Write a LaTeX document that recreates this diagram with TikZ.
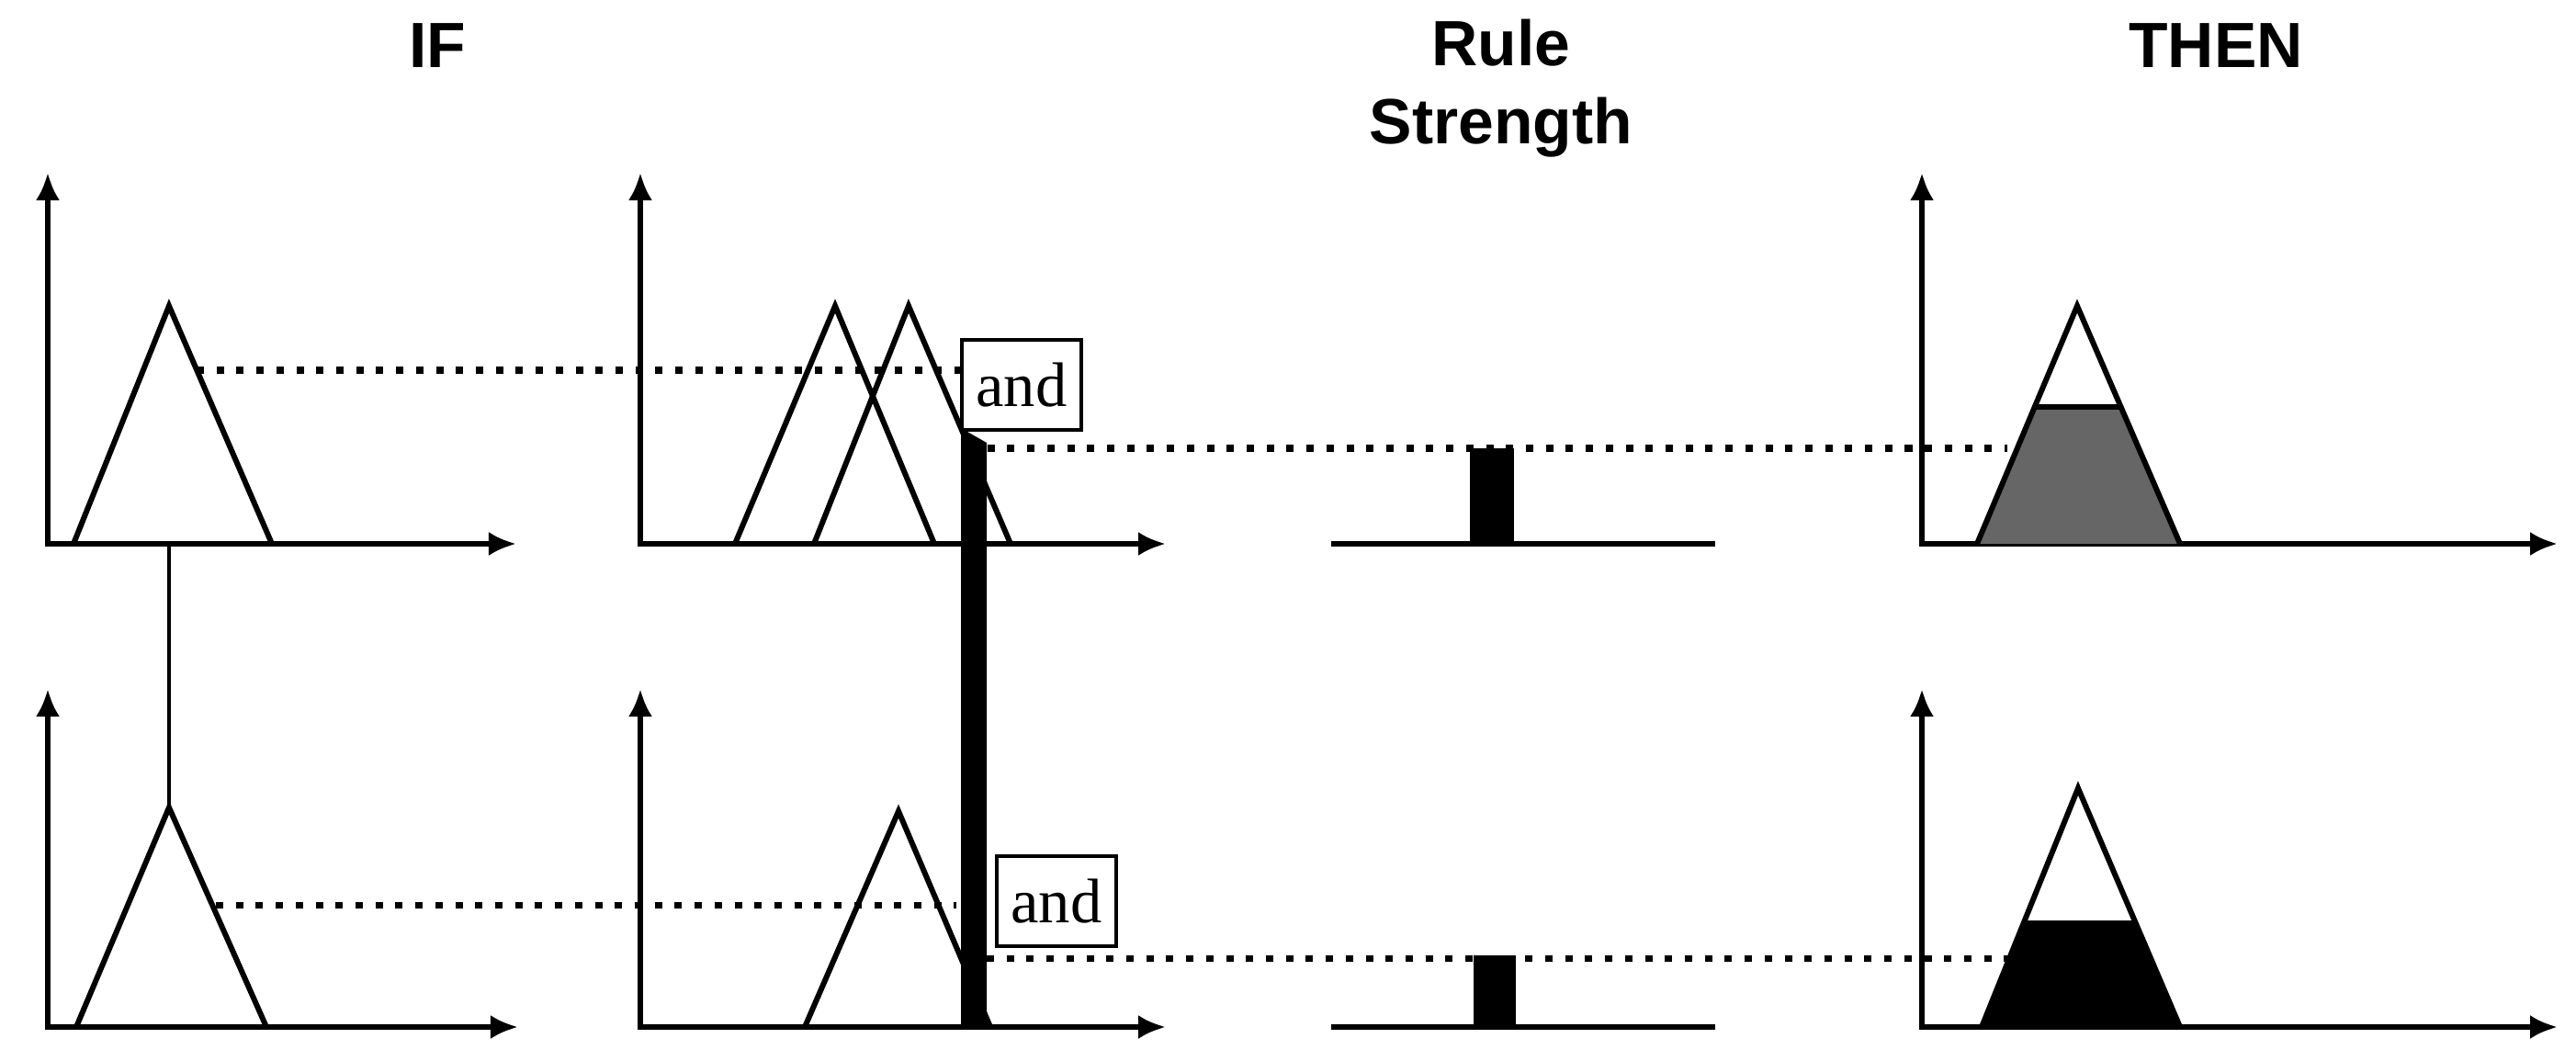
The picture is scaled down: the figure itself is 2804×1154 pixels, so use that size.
\documentclass[tikz,border=0pt]{standalone}
\usepackage{fontspec}
\setmainfont{Liberation Serif}
\newfontfamily\headfont{Liberation Sans}
\usetikzlibrary{arrows.meta}
\definecolor{cutgray}{HTML}{666666}
\tikzset{
  axes/.style={line width=1.6pt, line join=miter,
    {Latex[length=0.3cm,width=0.26cm]}-{Latex[length=0.3cm,width=0.26cm]}},
  mf/.style={line width=1.7pt, line join=miter},
  dots/.style={line width=2pt, dash pattern=on 0.08cm off 0.137cm},
  head/.style={font=\headfont\bfseries\fontsize{19.8}{24.1}\selectfont, align=center, inner sep=0pt},
  andbox/.style={draw, line width=1.2pt, minimum width=1.3cm, minimum height=0.98cm,
    inner sep=0pt, font=\fontsize{19.5}{22}\selectfont},
}
\begin{document}
\begin{tikzpicture}[x=0.01cm, y=-0.01cm]
\useasboundingbox (0,0) rectangle (2804,1154);
% titles
\node[head, anchor=base] (if) at (476,73) {IF};
\node[head] (rule) at (1634,96) {Rule\\Strength};
\node[head, anchor=base] (then) at (2412,73) {THEN};

% axes
\draw[axes] (52,188) -- (52,592) -- (562,592);
\draw[axes] (697,188) -- (697,592) -- (1269,592);
\draw[axes] (2092,188) -- (2092,592) -- (2784,592);
\draw[axes] (52,750) -- (52,1118) -- (564,1118);
\draw[axes] (697,750) -- (697,1118) -- (1269,1118);
\draw[axes] (2092,750) -- (2092,1118) -- (2784,1118);

% rule strength
\draw[line width=1.9pt] (1449,592) -- (1867,592);
\draw[line width=1.9pt] (1449,1118) -- (1867,1118);
\fill (1600,488) rectangle (1648,592);
\fill (1604,1040) rectangle (1650,1118);

% and boxes
\node[andbox] (and1) at (1112,419) {and};
\node[andbox] (and2) at (1150,981) {and};

% input value
\fill (1046,466) -- (1074,482) -- (1074,1118) -- (1046,1118) -- cycle;

% membership functions
\draw[mf] (80,592) -- (184,333) -- (296,592);
\draw[mf] (800,592) -- (909,333) -- (1017,592);
\draw[mf] (886,592) -- (989,333) -- (1100,592);
\draw[mf] (83,1118) -- (184,879) -- (290,1118);
\draw[mf] (876,1118) -- (978,883) -- (1078,1118);
\draw[line width=1.2pt] (184,592) -- (184,879);

% consequents
\fill[cutgray] (2152,592) -- (2216,443) -- (2308,443) -- (2373,592) -- cycle;
\draw[mf] (2152,592) -- (2261,333) -- (2373,592);
\draw[mf] (2216,443) -- (2308,443);
\fill (2157,1118) -- (2204,1002) -- (2323,1002) -- (2373,1118) -- cycle;
\draw[mf] (2157,1118) -- (2262,858) -- (2373,1118);

% dotted
\draw[dots] (214,403) -- (and1.west |- 0,403);
\draw[dots] (1053,488) -- (2185,488);
\draw[dots] (235,985) -- (1041,985);
\draw[dots] (1074,1043) -- (2185,1043);
\end{tikzpicture}
\end{document}
